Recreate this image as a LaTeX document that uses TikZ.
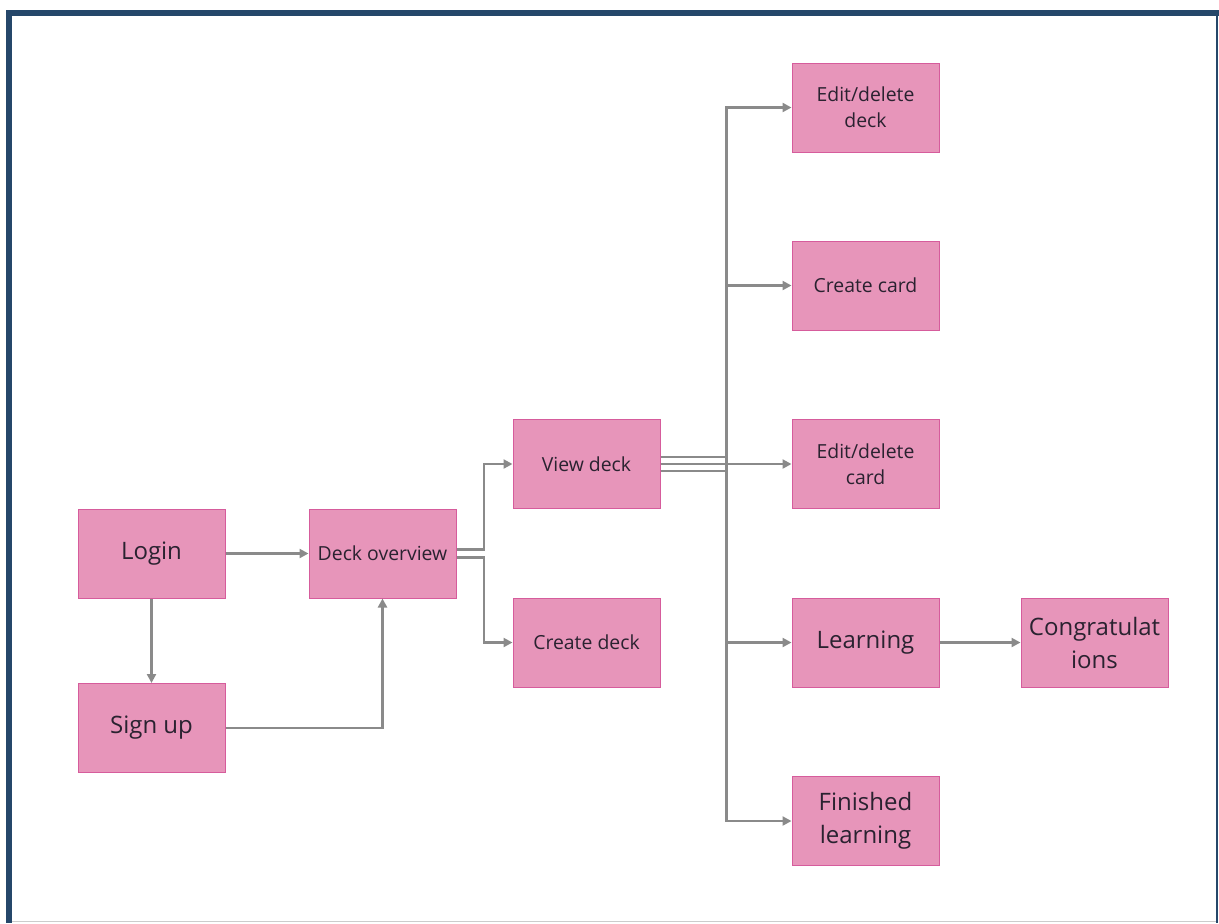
\documentclass[tikz,border=0pt]{standalone}
\usepackage{fontspec}
\setmainfont{Open Sans}
\usetikzlibrary{arrows.meta,positioning}
\definecolor{cardpink}{HTML}{E795BA}
\definecolor{cardedge}{HTML}{D65C9C}
\definecolor{flowgray}{HTML}{8A8A8A}
\definecolor{framenavy}{HTML}{25476A}
\definecolor{inkdark}{HTML}{2A2230}

\begin{document}
\begin{tikzpicture}[
  x=0.5pt, y=-0.5pt,
  screen/.style={draw=cardedge, fill=cardpink, line width=0.5pt, align=center,
    minimum width=73.5pt, minimum height=44.5pt, inner sep=1pt, text=inkdark,
    font=\fontsize{9.7}{13}\selectfont},
  bigscreen/.style={screen, font=\fontsize{12}{16.5}\selectfont},
  flow/.style={-{Triangle[length=4.5pt, width=4.5pt]}, line width=1.2pt, draw=flowgray}
]
\useasboundingbox (0,0) rectangle (1219,923);
% frame
\fill[framenavy] (6,10) rectangle (1219,16);
\fill[framenavy] (6,10) rectangle (12,923);
\fill[framenavy] (1216,10) rectangle (1218,923);
\draw[black!20, line width=0.6pt] (12,921.5) -- (1216,921.5);

\node[bigscreen] (login) at (151.5,553.5) {Login};
\node[bigscreen] (signup) at (151.5,728) {Sign up};
\node[screen] (overview) at (382.5,553.5) {Deck overview};
\node[screen] (viewdeck) at (586.5,464) {View deck};
\node[screen] (createdeck) at (586.5,642.5) {Create deck};
\node[screen] (editdeck) at (865.5,107.5) {Edit/delete\\deck};
\node[screen] (createcard) at (865.5,285.5) {Create card};
\node[screen] (editcard) at (865.5,464) {Edit/delete\\card};
\node[bigscreen] (learning) at (865.5,642.5) {Learning};
\node[bigscreen] (finished) at (865.5,821) {Finished\\learning};
\node[bigscreen] (congrats) at (1094.5,642.5) {Congratulat\\ions};

\coordinate (split) at (484,553.5);
\coordinate (trunk) at (726.5,464);

\draw[flow] (login) -- (overview);
\draw[flow] (login) -- (signup);
\draw[flow] (signup) -| (overview);
\draw[flow] ([yshift=2pt]overview.east) -| (split |- viewdeck) -- (viewdeck);
\draw[flow] ([yshift=-2pt]overview.east) -| (split |- createdeck) -- (createdeck);

\draw[flow] ([yshift=-3.5pt]viewdeck.east) -| (trunk |- editdeck) -- (editdeck);
\draw[flow] ([yshift=-3.5pt]viewdeck.east) -| (trunk |- createcard) -- (createcard);
\draw[flow] (viewdeck) -- (editcard);
\draw[flow] ([yshift=3.5pt]viewdeck.east) -| (trunk |- learning) -- (learning);
\draw[flow] ([yshift=3.5pt]viewdeck.east) -| (trunk |- finished) -- (finished);
\draw[flow] (learning) -- (congrats);
\end{tikzpicture}
\end{document}
